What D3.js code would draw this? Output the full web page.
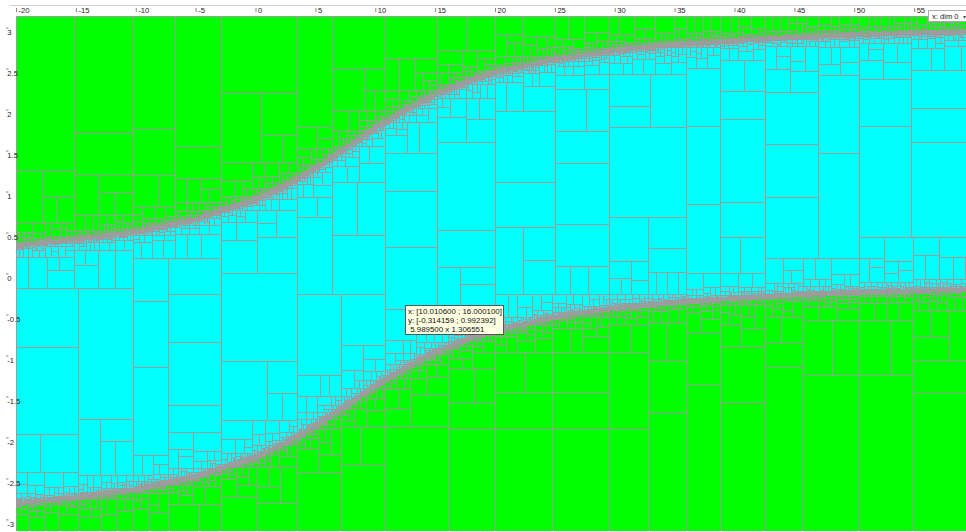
<!DOCTYPE html>
<html><head><meta charset="utf-8">
<script src="https://cdn.jsdelivr.net/npm/d3@7"></script>
<style>
body{margin:0;background:#fff;overflow:hidden}
svg{display:block}
text{font-family:"Liberation Sans",Arial,sans-serif}
</style></head>
<body><svg id="c" width="966" height="532"></svg>
<script>
// ---- data ----
const xDomain = [-20, 60];
const yDomain = [-Math.PI, Math.PI];
const xTicks = [-20,-15,-10,-5,0,5,10,15,20,25,30,35,40,45,50,55];
const yTicks = [3,2.5,2,1.5,1,0.5,0,-0.5,-1,-1.5,-2,-2.5,-3];
// boundary of the solution set (upper and lower edge)
const boundaryX = [-20,-15,-10,-5,0,2.5,5,7.5,10,12.5,15,17.5,20,25,30,35,40,45,50,55,60];
const upperY = [0.34,0.41,0.51,0.66,0.90,1.07,1.28,1.52,1.77,1.99,2.18,2.33,2.45,2.61,2.72,2.79,2.84,2.88,2.91,2.93,2.95];
const lowerY = [-2.80,-2.73,-2.63,-2.48,-2.24,-2.07,-1.86,-1.62,-1.37,-1.15,-0.96,-0.81,-0.69,-0.53,-0.42,-0.35,-0.30,-0.26,-0.23,-0.21,-0.19];
// bisection ratios used by the paver
const splitRatios = [0.5,0.43,0.57,0.47,0.53,0.4,0.6,0.46];
const tooltipLines = ["x: [10.010600 ; 16.000100]","y: [-0.314159 ; 0.992392]"," 5.989500 x 1.306551"];
const dimLabel = "x: dim 0";

const W = 966, H = 532;
const svg = d3.select("#c");
const xs = d3.scaleLinear().domain(xDomain).range([16, 974]);
const ys = d3.scaleLinear().domain(yDomain).range([531, 16]);
const U = d3.scaleLinear().domain(boundaryX).range(upperY);
const L = d3.scaleLinear().domain(boundaryX).range(lowerY);
const pxPerY = (531 - 16) / (yDomain[1] - yDomain[0]);

// ---- paving (set inversion with a pessimistic, size-dependent test) ----
const boxes = [];
let counter = 0;
const EPS = 2.2, CW = 0.5, CH = 0.1;
function pave(x0, x1, y0, y1) {
  const wpx = xs(x1) - xs(x0), hpx = ys(y0) - ys(y1);
  const m = (CW * wpx + CH * hpx) / pxPerY;
  const uMin = U(x0) - m, uMax = U(x1) + m, lMin = L(x0) - m, lMax = L(x1) + m;
  if (y0 >= lMax && y1 <= uMin) { boxes.push({x0,x1,y0,y1,c:"in"}); return; }
  if (y0 >= uMax || y1 <= lMin) { boxes.push({x0,x1,y0,y1,c:"out"}); return; }
  if (Math.max(wpx, hpx) < EPS) { boxes.push({x0,x1,y0,y1,c:"bd"}); return; }
  const r = splitRatios[counter++ % splitRatios.length];
  const k = hpx > 200 ? 0.3 : 0.9;
  if (wpx > hpx * k) {
    const s = x0 + (x1 - x0) * r;
    pave(x0, s, y0, y1); pave(s, x1, y0, y1);
  } else {
    const s = y0 + (y1 - y0) * r;
    pave(x0, x1, y0, s); pave(x0, x1, s, y1);
  }
}
pave(xDomain[0], xDomain[1], yDomain[0], yDomain[1]);

const fills = {in: "#00ffff", out: "#00ff00", bd: "#a0a0a0"};
svg.append("clipPath").attr("id","pc").append("rect")
  .attr("x", 16).attr("y", 16).attr("width", W - 16).attr("height", 531 - 16);
const g = svg.append("g").attr("clip-path","url(#pc)");
g.selectAll("rect").data(boxes).join("rect")
  .attr("x", d => xs(d.x0))
  .attr("y", d => ys(d.y1))
  .attr("width", d => xs(d.x1) - xs(d.x0))
  .attr("height", d => ys(d.y0) - ys(d.y1))
  .attr("fill", d => fills[d.c])
  .attr("stroke", "#9c9c9c")
  .attr("stroke-width", 1)
  .attr("shape-rendering", "crispEdges");

// ---- axes ----
svg.append("line").attr("x1", 10).attr("x2", W).attr("y1", 5.5).attr("y2", 5.5)
  .attr("stroke", "#d0d0d0").attr("shape-rendering","crispEdges");
const ax = svg.append("g").attr("transform","translate(0,8)")
  .call(d3.axisTop(xs).tickValues(xTicks).tickSize(-4).tickFormat(d => String(d)));
ax.select(".domain").remove();
ax.selectAll(".tick line").attr("stroke","#888");
ax.selectAll(".tick text").attr("x", 2).attr("y", 4.8).attr("dy", 0)
  .attr("text-anchor","start").attr("font-size", 7.6).attr("fill","#222")
  .attr("font-family", '"Liberation Sans",Arial,sans-serif');

const ay = svg.append("g").attr("transform","translate(6,0)")
  .call(d3.axisLeft(ys).tickValues(yTicks).tickSize(-2.5).tickFormat(d => String(d)));
ay.select(".domain").remove();
ay.selectAll(".tick line").attr("stroke","#888");
ay.selectAll(".tick text").attr("x", 1.3).attr("y", 7.3).attr("dy", 0)
  .attr("text-anchor","start").attr("font-size", 7.6).attr("fill","#222")
  .attr("font-family", '"Liberation Sans",Arial,sans-serif');

// ---- dimension selector ----
const dd = svg.append("g");
dd.append("rect").attr("x", 928.5).attr("y", 10.5).attr("width", 45).attr("height", 11)
  .attr("fill", "#fff").attr("stroke", "#aaa");
dd.append("text").attr("x", 932).attr("y", 19).attr("font-size", 7.6).attr("fill", "#222").text(dimLabel);
dd.append("text").attr("x", 963).attr("y", 18.5).attr("font-size", 6).attr("fill", "#555").text("▾");

// ---- tooltip ----
const tt = svg.append("g");
tt.append("rect").attr("x", 405.5).attr("y", 305.5).attr("width", 98).attr("height", 29)
  .attr("fill", "#ffffe1").attr("stroke", "#555");
tt.selectAll("text").data(tooltipLines).join("text")
  .attr("x", 408).attr("y", (d, i) => 314.2 + i * 8.8)
  .attr("font-size", 7.9).attr("fill", "#111")
  .attr("xml:space", "preserve").style("white-space","pre")
  .text(d => d);
</script></body></html>
